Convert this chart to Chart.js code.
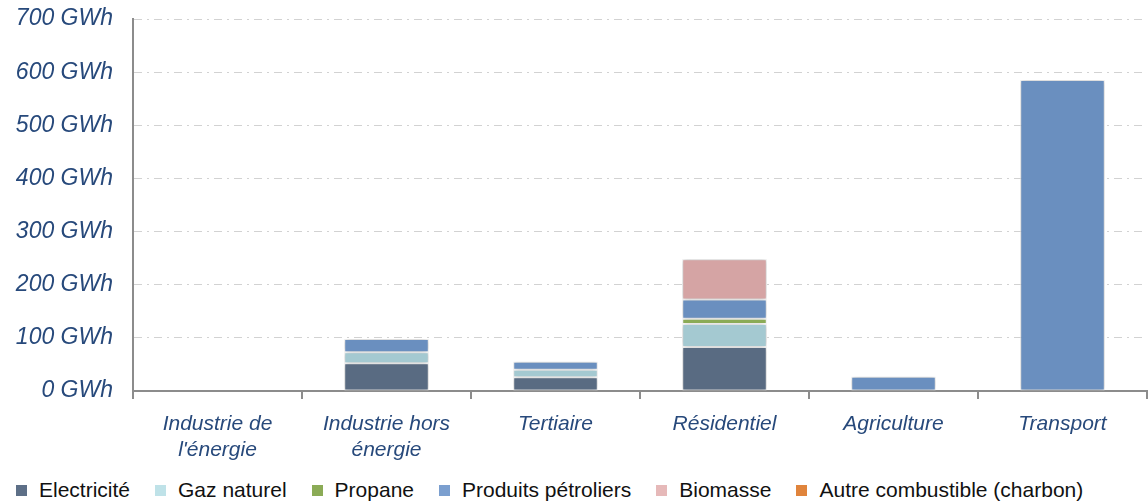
<!DOCTYPE html>
<html lang="fr">
<head>
<meta charset="UTF-8">
<title>Consommation d'énergie par secteur</title>
<script src="https://cdn.jsdelivr.net/npm/chart.js"></script>
<style>
  body { margin: 0; background: #fff; }
  .wrap { position: relative; width: 1148px; height: 470px; }
  .legend {
    position: absolute; left: 16px; top: 477px;
    display: flex; gap: 25px;
    font-family: "Liberation Sans", Arial, sans-serif; font-size: 21px;
    line-height: 26px; color: #111;
  }
  .legend span.item { display: flex; align-items: center; white-space: nowrap; }
  .legend i { display: inline-block; width: 11px; height: 11px; margin-right: 12px; }
</style>
</head>
<body>
<div class="wrap"><canvas id="chart"></canvas></div>
<div class="legend" id="legend"></div>

<script>
// Données (GWh)
const categories = [["Industrie de", "l'énergie"], ["Industrie hors", "énergie"], "Tertiaire", "Résidentiel", "Agriculture", "Transport"];
const electricite = [0, 52, 26, 83, 0, 0];
const gazNaturel = [0, 21, 14, 43, 0, 0];
const propane = [0, 0, 0, 10, 0, 0];
const produitsPetroliers = [0, 25, 15, 36, 27, 585];
const biomasse = [0, 0, 0, 76, 0, 0];
const autreCombustible = [0, 0, 0, 0, 0, 0];
const yTicks = [0, 100, 200, 300, 400, 500, 600, 700];

const series = [
    { label: 'Electricité', data: electricite, color: '#596b82', legend: '#5d6f87' },
    { label: 'Gaz naturel', data: gazNaturel, color: '#a4c9d1', legend: '#bfe2e8' },
    { label: 'Propane', data: propane, color: '#8bab56', legend: '#8bab56' },
    { label: 'Produits pétroliers', data: produitsPetroliers, color: '#6a8fbf', legend: '#7b9fcf' },
    { label: 'Biomasse', data: biomasse, color: '#d5a4a4', legend: '#e6b9b9' },
    { label: 'Autre combustible (charbon)', data: autreCombustible, color: '#e0843c', legend: '#e0843c' }
];

// légende en HTML
const legendEl = document.getElementById('legend');
series.forEach(s => {
    const item = document.createElement('span');
    item.className = 'item';
    item.innerHTML = '<i style="background:' + s.legend + '"></i>' + s.label;
    legendEl.appendChild(item);
});

// ombre légère autour des barres
const barShadow = {
    id: 'barShadow',
    beforeDatasetsDraw(chart) {
        const ctx = chart.ctx;
        ctx.save();
        ctx.shadowColor = 'rgba(0,0,0,0.3)';
        ctx.shadowBlur = 6;
    },
    afterDatasetsDraw(chart) {
        chart.ctx.restore();
    }
};

const tickBlue = '#27497b';

new Chart(document.getElementById('chart'), {
    type: 'bar',
    data: {
        labels: categories,
        datasets: series.map(s => ({
            label: s.label,
            data: s.data,
            backgroundColor: s.color,
            borderColor: '#ffffff',
            borderWidth: 1,
            borderSkipped: false,
            barPercentage: 0.5,
            categoryPercentage: 1
        }))
    },
    options: {
        responsive: true,
        maintainAspectRatio: false,
        animation: false,
        layout: { padding: { top: 19, right: 1, left: 0, bottom: 0 } },
        plugins: {
            legend: { display: false },
            tooltip: { enabled: false }
        },
        scales: {
            x: {
                stacked: true,
                grid: { drawOnChartArea: false, color: '#8c8c8c', tickLength: 8, lineWidth: 2 },
                border: { display: true, color: '#8c8c8c', width: 2 },
                ticks: {
                    color: tickBlue,
                    padding: 13,
                    maxRotation: 0,
                    font: { family: '"Liberation Sans", Arial, sans-serif', size: 21, style: 'italic', lineHeight: 1.2 }
                },
                afterFit(scale) { scale.height = 79; }
            },
            y: {
                stacked: true,
                min: 0,
                max: 700,
                afterBuildTicks(scale) { scale.ticks = yTicks.map(v => ({ value: v })); },
                grid: { color: '#d2d2d2', lineWidth: 1, drawTicks: false },
                border: { display: true, color: '#8c8c8c', width: 2, dash: [8, 5, 2, 5] },
                ticks: {
                    color: tickBlue,
                    padding: 20,
                    font: { family: '"Liberation Sans", Arial, sans-serif', size: 23, style: 'italic' },
                    callback: v => v + ' GWh'
                },
                afterFit(scale) {
                    scale.width = 133;
                    scale.paddingTop = 0;
                    scale.paddingBottom = 0;
                }
            }
        }
    },
    plugins: [barShadow]
});
</script>
</body>
</html>
